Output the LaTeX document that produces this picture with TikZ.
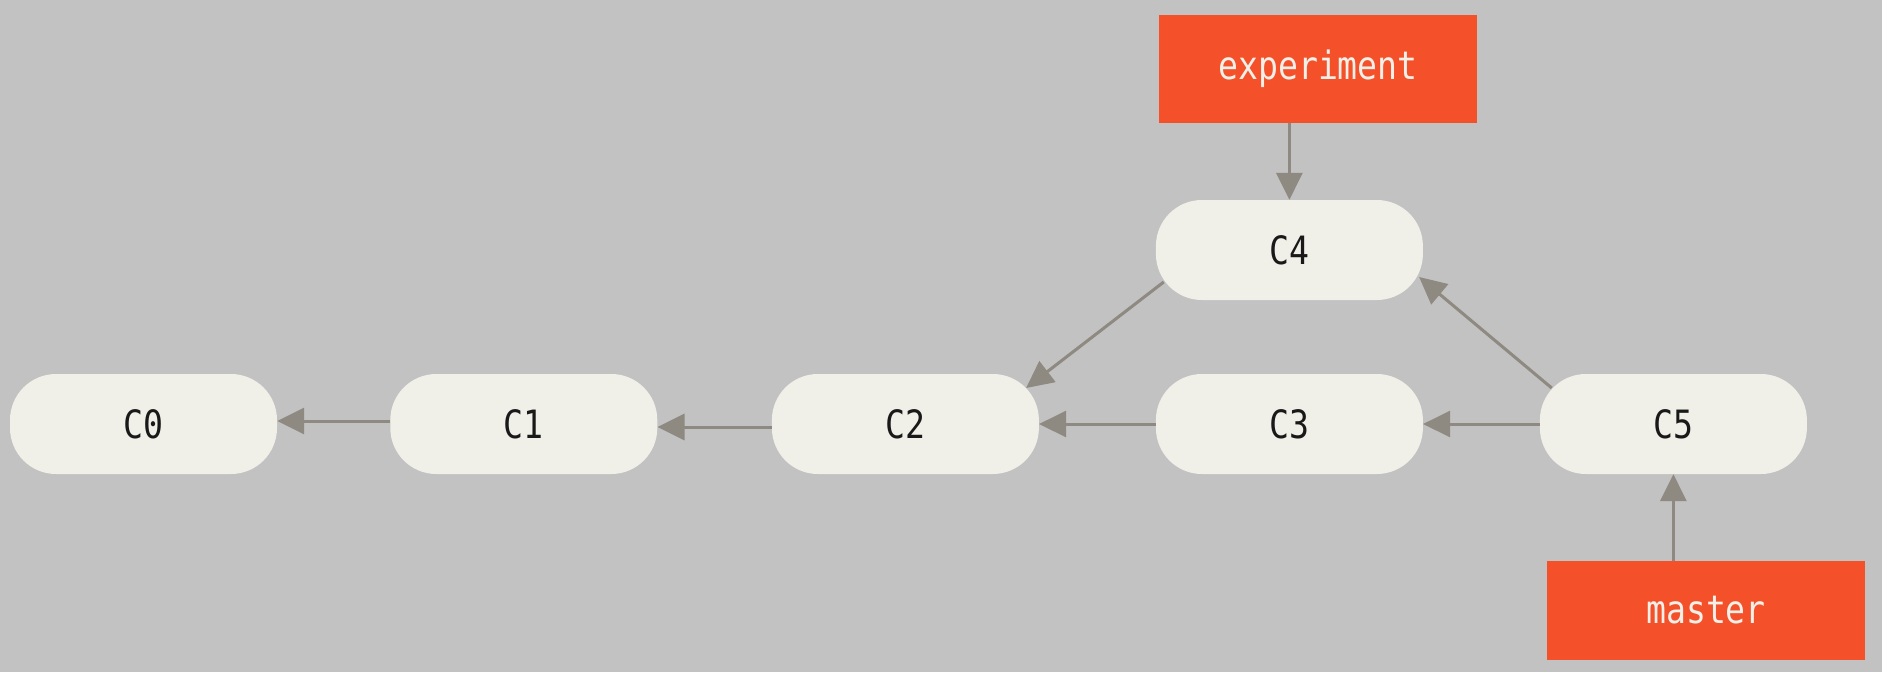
\documentclass[tikz,border=0pt]{standalone}
\usepackage{fontspec}
\newfontfamily\codefont[FakeStretch=0.85]{DejaVu Sans Mono}
\usetikzlibrary{arrows.meta}
\definecolor{bgc}{HTML}{C2C2C2}
\definecolor{commitfill}{HTML}{F0EFE8}
\definecolor{branchfill}{HTML}{F4502A}
\definecolor{arrowc}{HTML}{8E8981}
\tikzset{
  commit/.style={fill=commitfill, draw=none, rounded corners=46pt, minimum width=267pt, minimum height=100pt, inner sep=0pt, text=black!90, font=\codefont\fontsize{39}{42}\selectfont},
  branch/.style={fill=branchfill, draw=none, minimum width=318pt, inner sep=0pt, text=commitfill, font=\codefont\fontsize{39}{42}\selectfont},
  arr/.style={draw=arrowc, line width=3pt, -{Triangle[length=27pt,width=26pt]}}
}
\begin{document}
\begin{tikzpicture}[x=1pt,y=-1pt]
\fill[bgc] (0,0) rectangle (1882,672);
\useasboundingbox (0,0) rectangle (1882,672);
\node[commit] (C0) at (143.5,424) {C0};
\node[commit] (C1) at (523.8,424) {C1};
\node[commit] (C2) at (905.4,424) {C2};
\node[commit] (C3) at (1289.4,424) {C3};
\node[commit] (C5) at (1673.4,424) {C5};
\node[commit] (C4) at (1289.4,250) {C4};
\node[branch, minimum height=108pt] (exp) at (1318,68.5) {experiment};
\node[branch, minimum height=99pt] (master) at (1706,610.5) {master};
\draw[arr] ([yshift=3pt]C1.west) -- ([yshift=3pt]C0.east);
\draw[arr] ([yshift=-3pt]C2.west) -- ([yshift=-3pt]C1.east);
\draw[arr] (C3.west) -- (C2.east);
\draw[arr] (C5.west) -- (C3.east);
\draw[arr] ([shift={(8pt,-32pt)}]C4.west) -- ([shift={(-13pt,36pt)}]C2.east);
\draw[arr] ([shift={(12pt,36pt)}]C5.west) -- ([shift={(-4pt,-27pt)}]C4.east);
\draw[arr] (exp.south -| C4.north) -- (C4.north);
\draw[arr] (master.north -| C5.south) -- (C5.south);
\end{tikzpicture}
\end{document}
